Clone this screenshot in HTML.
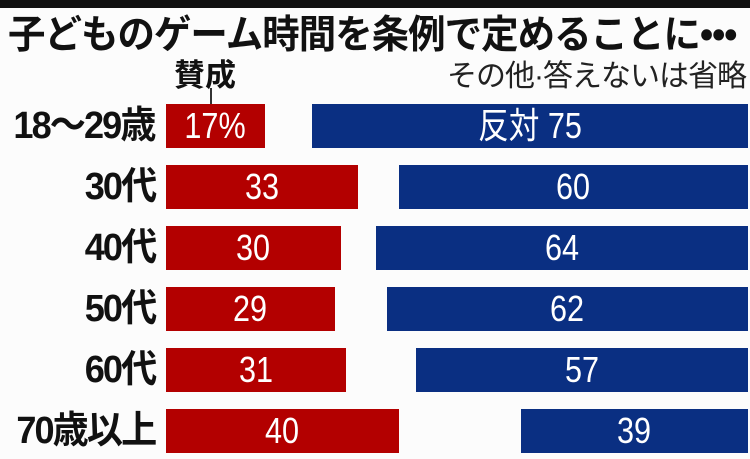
<!DOCTYPE html>
<html><head><meta charset="utf-8"><style>
body{margin:0;width:750px;height:459px;background:#fcfcfc;position:relative;overflow:hidden;font-family:"Liberation Sans","Noto Sans CJK JP",sans-serif}
.t{position:absolute;white-space:nowrap}
.bar{position:absolute;height:44px;color:#fff;font-size:36px;line-height:44px;text-align:center}
.bar span{display:inline-block;transform:scaleX(0.85)}
.r{background:#b30000;left:166px}
.b{background:#0a2f82;right:2px}
.lab{position:absolute;right:595px;font-size:38px;font-weight:bold;line-height:44px;color:#111;letter-spacing:-2px;transform-origin:100% 50%;transform:scaleX(0.95);white-space:nowrap}
</style></head><body>
<div style="position:absolute;left:0;top:0;width:750px;height:8px;background:#111"></div>
<div class="t" style="left:8px;top:4px;font-size:39px;font-weight:bold;color:#111;transform-origin:0 0;transform:scaleX(0.96);letter-spacing:-1px">子どものゲーム時間を条例で定めることに•••</div>
<div class="t" style="left:174px;top:50px;font-size:31px;font-weight:bold;color:#111">賛成</div>
<div style="position:absolute;left:210px;top:88px;width:2px;height:16px;background:#333"></div>
<div class="t" style="right:4px;top:51px;font-size:30px;color:#222;letter-spacing:-1px">その他·答えないは省略</div>

<div class="lab" style="top:104px">18〜29歳</div>
<div class="bar r" style="top:104px;width:99px"><span>17%</span></div>
<div class="bar b" style="top:104px;width:436px"><span>反対 75</span></div>

<div class="lab" style="top:165px">30代</div>
<div class="bar r" style="top:165px;width:192px"><span>33</span></div>
<div class="bar b" style="top:165px;width:349px"><span>60</span></div>

<div class="lab" style="top:226px">40代</div>
<div class="bar r" style="top:226px;width:175px"><span>30</span></div>
<div class="bar b" style="top:226px;width:372px"><span>64</span></div>

<div class="lab" style="top:287px">50代</div>
<div class="bar r" style="top:287px;width:169px"><span>29</span></div>
<div class="bar b" style="top:287px;width:361px"><span>62</span></div>

<div class="lab" style="top:348px">60代</div>
<div class="bar r" style="top:348px;width:180px"><span>31</span></div>
<div class="bar b" style="top:348px;width:332px"><span>57</span></div>

<div class="lab" style="top:409px">70歳以上</div>
<div class="bar r" style="top:409px;width:233px"><span>40</span></div>
<div class="bar b" style="top:409px;width:227px"><span>39</span></div>
</body></html>
